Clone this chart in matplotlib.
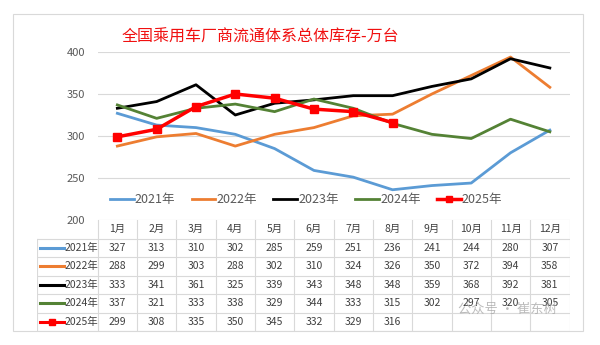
import matplotlib
matplotlib.use('Agg')
import matplotlib.pyplot as plt
from matplotlib.patches import Rectangle

plt.rcParams['font.family'] = ['Noto Sans CJK SC', 'DejaVu Sans']

months = ['1月', '2月', '3月', '4月', '5月', '6月', '7月', '8月', '9月', '10月', '11月', '12月']
years = ['2021年', '2022年', '2023年', '2024年', '2025年']
v2021 = [327, 313, 310, 302, 285, 259, 251, 236, 241, 244, 280, 307]
v2022 = [288, 299, 303, 288, 302, 310, 324, 326, 350, 372, 394, 358]
v2023 = [333, 341, 361, 325, 339, 343, 348, 348, 359, 368, 392, 381]
v2024 = [337, 321, 333, 338, 329, 344, 333, 315, 302, 297, 320, 305]
v2025 = [299, 308, 335, 350, 345, 332, 329, 316]
series = [v2021, v2022, v2023, v2024, v2025]
colors = ['#5B9BD5', '#ED7D31', '#000000', '#548235', '#FF0000']

W, H = 600, 345
fig = plt.figure(figsize=(6, 3.45), dpi=100)

def fx(px):
    return px / W

def fy(py):
    return 1 - py / H

# outer chart border
fig.patches.append(Rectangle((fx(13), fy(331)), fx(570), (331 - 14) / H,
                             transform=fig.transFigure, fill=False,
                             edgecolor='#D9D9D9', lw=0.8))

fig.text(fx(260), fy(37), '全国乘用车厂商流通体系总体库存-万台', color='#F01010',
         fontsize=11.5, ha='center', va='center')

# main plot
x0, x1 = 97.7, 569.5
ax = fig.add_axes([fx(x0), fy(220), fx(x1 - x0), (220 - 52) / H])
x = list(range(12))
for i, (vals, c) in enumerate(zip(series, colors)):
    if i == 4:
        ax.plot(x[:len(vals)], vals, color=c, lw=2.5, marker='s', ms=6,
                label=years[i], zorder=5)
    else:
        ax.plot(x[:len(vals)], vals, color=c, lw=2, label=years[i])
ax.set_xlim(-0.5, 11.5)
ax.set_ylim(200, 400)
ax.set_yticks([200, 250, 300, 350, 400])
ax.set_xticks([])
ax.grid(axis='y', color='#D9D9D9', lw=0.8)
ax.set_axisbelow(True)
for s in ['top', 'right', 'left', 'bottom']:
    ax.spines[s].set_visible(False)
ax.tick_params(axis='y', length=0, labelsize=8, labelcolor='#595959', pad=9)
ax.legend(ncol=5, loc='center', bbox_to_anchor=(fx(306), fy(200)),
          bbox_transform=fig.transFigure, frameon=False, fontsize=9,
          handlelength=1.9, handletextpad=0.1, columnspacing=1.3,
          labelcolor='#595959', markerscale=0.8)

# data table
cw = (x1 - x0) / 12
lab_w = (x0 - 37) / cw
tab = fig.add_axes([fx(37), fy(331), fx(x1 - 37), (331 - 220) / H])
tab.set_xlim(-0.5 - lab_w, 11.5)
tab.set_ylim(0, 6)
tab.axis('off')
gc = '#D9D9D9'
for k in range(13):
    tab.plot([k - 0.5, k - 0.5], [0, 6], color=gc, lw=0.8)
tab.plot([-0.5 - lab_w] * 2, [0, 5], color=gc, lw=0.8)
for r in range(6):
    tab.plot([-0.5 - lab_w, 11.5], [r, r], color=gc, lw=0.8)
for j, m in enumerate(months):
    tab.text(j, 5.5, m, ha='center', va='center', fontsize=7.5, color='#404040')
for i, (vals, c) in enumerate(zip(series, colors)):
    yy = 4.5 - i
    lx0 = -0.5 - lab_w + 0.08
    tab.plot([lx0, lx0 + 0.6], [yy, yy], color=c, lw=2.2)
    if i == 4:
        tab.plot([lx0 + 0.3], [yy], color=c, marker='s', ms=5)
    tab.text(lx0 + 0.62, yy, years[i], ha='left', va='center', fontsize=7.5,
             color='#404040')
    for j, v in enumerate(vals):
        tab.text(j, yy, str(v), ha='center', va='center', fontsize=7.5,
                 color='#404040')

fig.text(fx(507), fy(309), '公众号 · 崔东树', ha='center', va='center',
         fontsize=9.5, color='#A0A0A0', alpha=0.7)

fig.savefig('out.png', dpi=100)
